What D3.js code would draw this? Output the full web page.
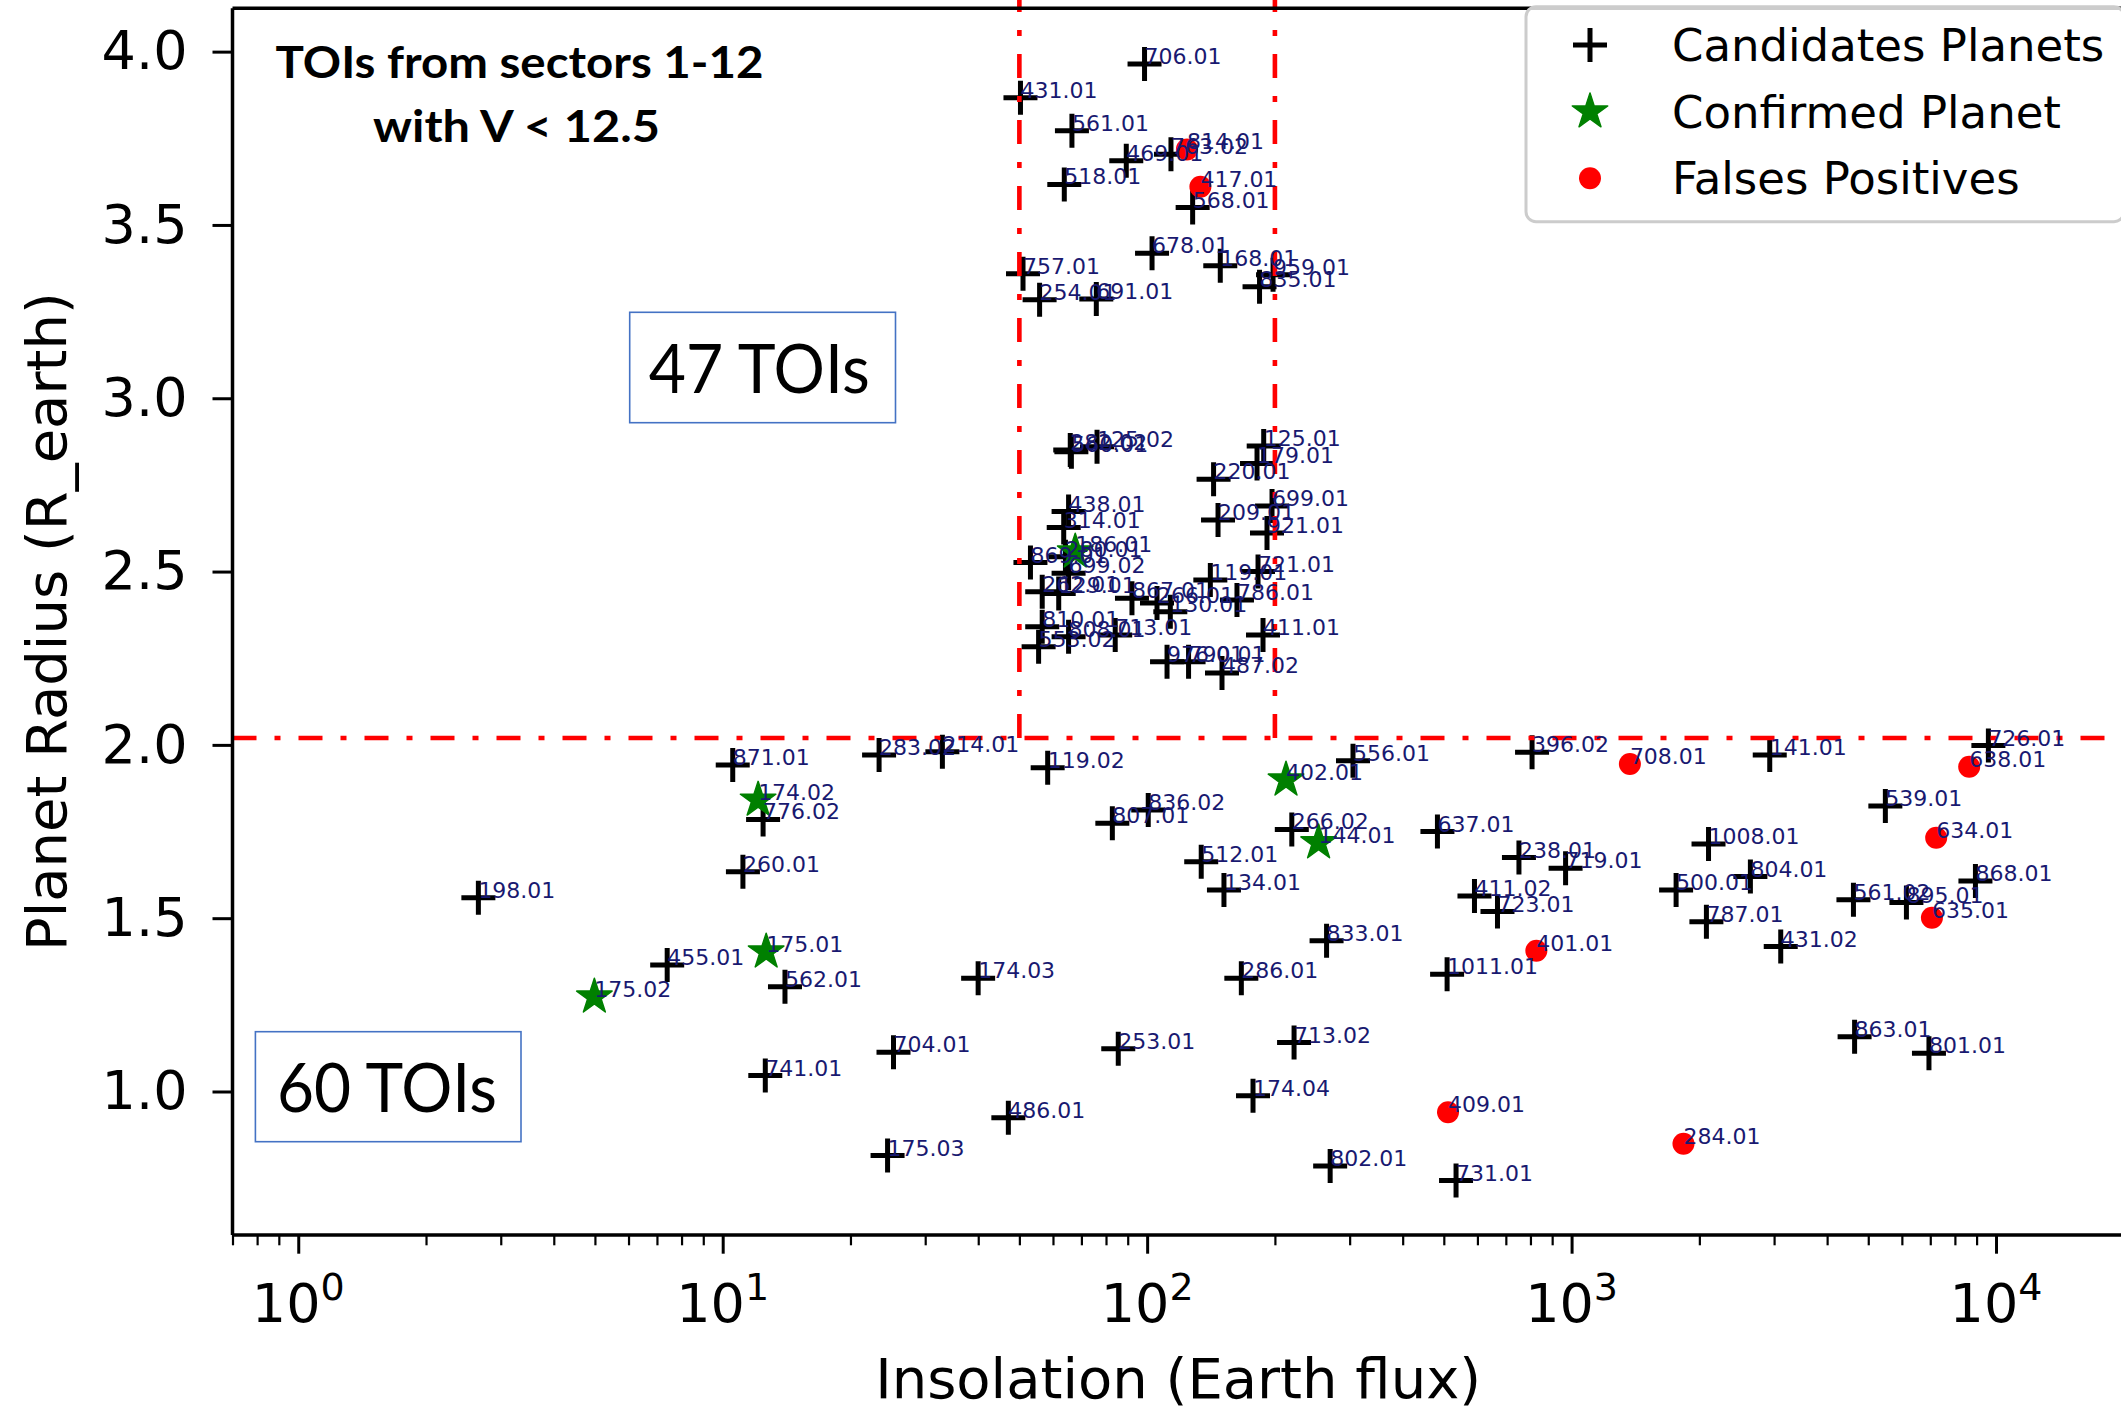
<!DOCTYPE html>
<html>
<head>
<meta charset="utf-8">
<script src="https://cdn.jsdelivr.net/npm/d3@7"></script>
<style>
  body { margin: 0; background: #ffffff; }
  svg { display: block; }
</style>
</head>
<body>
<svg id="chart" width="2121" height="1412"></svg>
<script>
// ---- TOI candidates (insolation in Earth flux, radius in Earth radii) ----
const candidateNames = [
  "706.01","431.01","561.01","469.01","763.02","518.01","568.01","678.01","168.01","959.01",
  "835.01","757.01","254.01","691.01","282.02","560.01","125.02","125.01","179.01","220.01",
  "699.01","209.01","921.01","438.01","314.01","869.01","280.01","699.02","262.01","129.01",
  "867.01","266.01","130.01","119.01","721.01","786.01","810.01","808.01","713.01","553.02",
  "411.01","976.01","790.01","487.02",
  "198.01","871.01","776.02","260.01","455.01","562.01","741.01","283.02","214.01","119.02",
  "704.01","175.03","174.03","486.01","253.01","807.01","836.02","512.01","134.01","286.01",
  "174.04","266.02","556.01","833.01","713.02","802.01","637.01","1011.01","731.01","238.01",
  "719.01","411.02","723.01","396.02","141.01","1008.01","500.01","804.01","787.01","431.02",
  "539.01","561.02","895.01","868.01","863.01","801.01","726.01"
];
const candidateInsolation = [
  98.6, 50.3, 66.5, 89.3, 113.8, 63.8, 128.0, 102.7, 148.7, 198.0,
  184.0, 51.0, 55.8, 75.9, 65.9, 66.3, 76.2, 188.2, 181.5, 143.4,
  196.9, 146.9, 191.6, 65.3, 63.6, 53.1, 64.2, 65.3, 56.6, 61.9,
  92.1, 105.5, 113.4, 140.9, 182.5, 162.8, 56.6, 65.3, 84.1, 55.5,
  187.5, 111.4, 125.2, 150.1,
  2.657, 10.56, 12.45, 11.16, 7.40, 14.02, 12.6, 23.36, 32.93, 58.3,
  25.26, 24.46, 39.98, 47.1, 85.5, 82.8, 100.6, 134.1, 151.7, 166.7,
  177.6, 219.2, 305.5, 264.7, 221.9, 269.9, 483, 509, 534.3, 751.6,
  968, 590.5, 669, 807, 2930, 2102, 1763, 2638, 2078, 3110,
  5486, 4614, 6150, 8943, 4643, 6950, 9594
];
const candidateRadius = [
  3.964, 3.867, 3.772, 3.685, 3.704, 3.617, 3.550, 3.418, 3.382, 3.356,
  3.322, 3.359, 3.284, 3.286, 2.851, 2.846, 2.860, 2.862, 2.812, 2.766,
  2.689, 2.649, 2.611, 2.673, 2.627, 2.526, 2.543, 2.495, 2.442, 2.437,
  2.423, 2.409, 2.384, 2.476, 2.500, 2.418, 2.341, 2.312, 2.317, 2.283,
  2.317, 2.240, 2.240, 2.207,
  1.559, 1.942, 1.785, 1.634, 1.365, 1.302, 1.046, 1.971, 1.980, 1.934,
  1.113, 0.815, 1.327, 0.924, 1.123, 1.774, 1.812, 1.663, 1.581, 1.327,
  0.988, 1.756, 1.954, 1.435, 1.141, 0.785, 1.750, 1.338, 0.743, 1.675,
  1.644, 1.564, 1.519, 1.979, 1.971, 1.714, 1.581, 1.620, 1.490, 1.418,
  1.824, 1.553, 1.545, 1.607, 1.158, 1.110, 1.998
];

// ---- confirmed planets ----
const confirmedNames = ["186.01","174.02","175.01","175.02","402.01","144.01"];
const confirmedInsolation = [67.7, 12.12, 12.66, 4.985, 212.4, 253.5];
const confirmedRadius = [2.557, 1.841, 1.403, 1.273, 1.899, 1.718];

// ---- false positives ----
const falsePositiveNames = ["814.01","417.01","708.01","638.01","634.01","635.01","401.01","409.01","284.01"];
const falsePositiveInsolation = [124.1, 133.5, 1372, 8645, 7228, 7063, 826, 511.5, 1835];
const falsePositiveRadius = [3.718, 3.610, 1.945, 1.937, 1.732, 1.501, 1.406, 0.940, 0.849];

// ---- axes, guides and annotations ----
const yTickValues = [1.0, 1.5, 2.0, 2.5, 3.0, 3.5, 4.0];
const xTickExponents = [0, 1, 2, 3, 4];
const insolationBounds = [50, 200];
const radiusBoundary = 2.02;
const legendLabels = ["Candidates Planets", "Confirmed Planet", "Falses Positives"];
const titleLines = ["TOIs from sectors 1-12", "with V < 12.5"];
const regionLabels = ["47 TOIs", "60 TOIs"];
const xAxisTitle = "Insolation (Earth flux)";
const yAxisTitle = "Planet Radius (R_earth)";

const svg = d3.select("#chart");
svg.append("rect").attr("width", 2121).attr("height", 1412).attr("fill", "#ffffff");

const plot = { left: 232.5, right: 2123.8, top: 8.3, bottom: 1235 };
const x = d3.scaleLog().domain([0.7, 2e4]).range([plot.left, plot.right]);
const y = d3.scaleLinear().domain([0.586, 4.125]).range([plot.bottom, plot.top]);

const FONT = "'DejaVu Sans', Verdana, sans-serif";
const CROSS_ARM = 17, CROSS_W = 5;
const starPath = d3.symbol().type(d3.symbolStar).size(390)();
const DOT_R = 11;

const zip = (names, xs, ys) => names.map((n, i) => ({ name: n, s: xs[i], r: ys[i] }));
const candidates = zip(candidateNames, candidateInsolation, candidateRadius);
const confirmed = zip(confirmedNames, confirmedInsolation, confirmedRadius);
const falsePositives = zip(falsePositiveNames, falsePositiveInsolation, falsePositiveRadius);

// ---- markers ----
const crossPath = `M${-CROSS_ARM},0H${CROSS_ARM}M0,${-CROSS_ARM}V${CROSS_ARM}`;
const gMarks = svg.append("g");
gMarks.selectAll("path.cand").data(candidates).join("path")
  .attr("class", "cand")
  .attr("d", crossPath)
  .attr("transform", d => `translate(${x(d.s)},${y(d.r)})`)
  .attr("stroke", "#000").attr("stroke-width", CROSS_W).attr("fill", "none");
gMarks.selectAll("path.conf").data(confirmed).join("path")
  .attr("class", "conf")
  .attr("d", starPath)
  .attr("transform", d => `translate(${x(d.s)},${y(d.r)})`)
  .attr("fill", "#008000").attr("stroke", "#008000").attr("stroke-width", 1.5)
  .attr("stroke-linejoin", "round");
gMarks.selectAll("circle.fp").data(falsePositives).join("circle")
  .attr("class", "fp")
  .attr("cx", d => x(d.s)).attr("cy", d => y(d.r)).attr("r", DOT_R)
  .attr("fill", "#ff0000");

// ---- guide lines ----
const dash = "24,18,6,18";
const gGuides = svg.append("g").attr("stroke", "#ff0000").attr("stroke-width", 4.6)
  .attr("stroke-dasharray", dash).attr("fill", "none");
gGuides.selectAll("line.v").data(insolationBounds).join("line")
  .attr("class", "v")
  .attr("x1", d => x(d)).attr("x2", d => x(d))
  .attr("y1", y(radiusBoundary)).attr("y2", 0);
gGuides.append("line")
  .attr("x1", x(0.7)).attr("x2", x(2e4))
  .attr("y1", y(radiusBoundary)).attr("y2", y(radiusBoundary));

// ---- point labels ----
const allPoints = candidates.concat(confirmed, falsePositives);
svg.append("g").selectAll("text").data(allPoints).join("text")
  .attr("x", d => x(d.s)).attr("y", d => y(d.r))
  .attr("font-family", FONT).attr("font-size", 22).attr("fill", "#191970")
  .text(d => d.name);

// ---- axes ----
const yAxis = d3.axisLeft(y).tickValues(yTickValues).tickFormat(d3.format(".1f"))
  .tickSize(20).tickPadding(25);
const gy = svg.append("g").attr("transform", `translate(${plot.left},0)`).call(yAxis);
gy.select(".domain").remove();
gy.selectAll(".tick line").attr("stroke", "#000").attr("stroke-width", 3);
gy.selectAll(".tick text").attr("font-family", FONT).attr("font-size", 54).attr("fill", "#000");

const majorX = xTickExponents.map(e => Math.pow(10, e));
const minorX = [];
for (let e = -1; e <= 4; e++) for (let m = 2; m <= 9; m++) {
  const v = m * Math.pow(10, e);
  if (v >= 0.7 && v <= 2e4) minorX.push(v);
}
const gxMinor = svg.append("g").attr("transform", `translate(0,${plot.bottom})`)
  .call(d3.axisBottom(x).tickValues(minorX).tickSize(10.3).tickFormat(""));
gxMinor.select(".domain").remove();
gxMinor.selectAll(".tick line").attr("stroke", "#000").attr("stroke-width", 2.2);
const gxMajor = svg.append("g").attr("transform", `translate(0,${plot.bottom})`)
  .call(d3.axisBottom(x).tickValues(majorX).tickSize(18.7).tickFormat(""));
gxMajor.select(".domain").remove();
gxMajor.selectAll(".tick line").attr("stroke", "#000").attr("stroke-width", 3);

const xLabels = svg.append("g").selectAll("text").data(xTickExponents).join("text")
  .attr("x", e => x(Math.pow(10, e)))
  .attr("y", 1322)
  .attr("text-anchor", "middle")
  .attr("font-family", FONT).attr("font-size", 54).attr("fill", "#000");
xLabels.append("tspan").text("10");
xLabels.append("tspan").attr("dy", -22).attr("font-size", 38).text(e => String(e));

// spines
const gSpines = svg.append("g").attr("stroke", "#000").attr("stroke-width", 3.5);
gSpines.append("line").attr("x1", plot.left).attr("x2", plot.left)
  .attr("y1", plot.top).attr("y2", plot.bottom);
gSpines.append("line").attr("x1", plot.left).attr("x2", plot.right)
  .attr("y1", plot.bottom).attr("y2", plot.bottom);
gSpines.append("line").attr("x1", plot.left).attr("x2", plot.right)
  .attr("y1", plot.top).attr("y2", plot.top);
gSpines.append("line").attr("x1", plot.right).attr("x2", plot.right)
  .attr("y1", plot.top).attr("y2", plot.bottom);

// axis titles
svg.append("text")
  .attr("x", (plot.left + plot.right) / 2).attr("y", 1398)
  .attr("text-anchor", "middle").attr("font-family", FONT).attr("font-size", 56)
  .text(xAxisTitle);
svg.append("text")
  .attr("transform", `translate(66,${(plot.top + plot.bottom) / 2}) rotate(-90)`)
  .attr("text-anchor", "middle").attr("font-family", FONT).attr("font-size", 56)
  .text(yAxisTitle);

// ---- in-plot annotations ----
const TITLE_FONT = "Lato, 'Open Sans', sans-serif";
svg.append("text").attr("x", 275.5).attr("y", 78)
  .attr("font-family", TITLE_FONT).attr("font-weight", 700).attr("font-size", 44)
  .attr("textLength", 488).attr("lengthAdjust", "spacingAndGlyphs")
  .text(titleLines[0]);
svg.append("text").attr("x", 373).attr("y", 142)
  .attr("font-family", TITLE_FONT).attr("font-weight", 700).attr("font-size", 44)
  .attr("textLength", 287).attr("lengthAdjust", "spacingAndGlyphs")
  .text(titleLines[1]);

const regionBoxes = [
  { label: regionLabels[0], x0: 629.7, y0: 312.3, x1: 895.5, y1: 422.7, tx: 648.7, ty: 393.3, tw: 221 },
  { label: regionLabels[1], x0: 255.4, y0: 1031.7, x1: 521.0, y1: 1141.7, tx: 276.9, ty: 1111.7, tw: 220 }
];
const gBoxes = svg.append("g");
gBoxes.selectAll("rect").data(regionBoxes).join("rect")
  .attr("x", d => d.x0).attr("y", d => d.y0)
  .attr("width", d => d.x1 - d.x0).attr("height", d => d.y1 - d.y0)
  .attr("fill", "#ffffff").attr("stroke", "#4472c4").attr("stroke-width", 1.6);
gBoxes.selectAll("text").data(regionBoxes).join("text")
  .attr("x", d => d.tx).attr("y", d => d.ty)
  .attr("font-family", TITLE_FONT).attr("font-size", 67)
  .attr("textLength", d => d.tw).attr("lengthAdjust", "spacingAndGlyphs")
  .text(d => d.label);

// ---- legend ----
const gLegend = svg.append("g");
gLegend.append("rect")
  .attr("x", 1526).attr("y", 6.7).attr("width", 598).attr("height", 215)
  .attr("rx", 10).attr("ry", 10)
  .attr("fill", "#ffffff").attr("fill-opacity", 0.8)
  .attr("stroke", "#cccccc").attr("stroke-width", 3);
const legendRowY = [45, 111.7, 178.3];
gLegend.append("path").attr("d", crossPath)
  .attr("transform", `translate(1590,${legendRowY[0]})`)
  .attr("stroke", "#000").attr("stroke-width", CROSS_W).attr("fill", "none");
gLegend.append("path").attr("d", starPath)
  .attr("transform", `translate(1590,${legendRowY[1]})`)
  .attr("fill", "#008000").attr("stroke", "#008000").attr("stroke-width", 1.5)
  .attr("stroke-linejoin", "round");
gLegend.append("circle").attr("cx", 1590).attr("cy", legendRowY[2]).attr("r", DOT_R)
  .attr("fill", "#ff0000");
gLegend.selectAll("text").data(legendLabels).join("text")
  .attr("x", 1672).attr("y", (d, i) => legendRowY[i] + 16)
  .attr("font-family", FONT).attr("font-size", 45).attr("fill", "#000")
  .text(d => d);
</script>
</body>
</html>
